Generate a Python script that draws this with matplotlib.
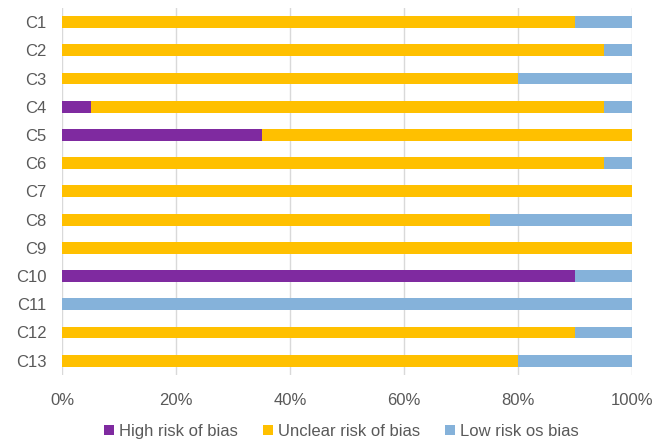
import matplotlib
matplotlib.use("Agg")
import matplotlib.pyplot as plt
import numpy as np

plt.rcParams['font.family'] = ['Liberation Sans Narrow', 'Liberation Sans', 'DejaVu Sans']

labels = ['C1', 'C2', 'C3', 'C4', 'C5', 'C6', 'C7', 'C8', 'C9', 'C10', 'C11', 'C12', 'C13']
high = [0, 0, 0, 5, 35, 0, 0, 0, 0, 90, 0, 0, 0]
unclear = [90, 95, 80, 90, 65, 95, 100, 75, 100, 0, 0, 90, 80]
low = [10, 5, 20, 5, 0, 5, 0, 25, 0, 10, 100, 10, 20]
series_names = ['High risk of bias', 'Unclear risk of bias', 'Low risk os bias']
colors = ['#7F2AA0', '#FFC000', '#85B2DA']

fig = plt.figure(figsize=(6.53, 4.42), dpi=100)
ax = fig.add_axes([0.095, 0.152, 0.873, 0.830])

y = np.arange(len(labels))
left = np.zeros(len(labels))
for vals, name, c in zip([high, unclear, low], series_names, colors):
    ax.barh(y, vals, left=left, height=0.42, color=c, label=name, zorder=3)
    left += np.array(vals)

ax.set_ylim(12.5, -0.5)
ax.set_xlim(0, 100)
ax.set_xticks(range(0, 101, 20))
ax.set_xticklabels(['%d%%' % v for v in range(0, 101, 20)])
ax.set_yticks(y)
ax.set_yticklabels(labels)
ax.grid(axis='x', color='#D9D9D9', linewidth=1, zorder=0)
for s in ax.spines.values():
    s.set_visible(False)
ax.tick_params(length=0, labelsize=12, colors='#595959', pad=11)
ax.tick_params(axis='x', pad=13)

fig.legend(loc='center', bbox_to_anchor=(0.523, 0.024), ncol=3, frameon=False,
           fontsize=12, handlelength=0.6, handleheight=0.6, handletextpad=0.3,
           columnspacing=1.5, labelcolor='#595959')

fig.savefig('out.png', dpi=100)
